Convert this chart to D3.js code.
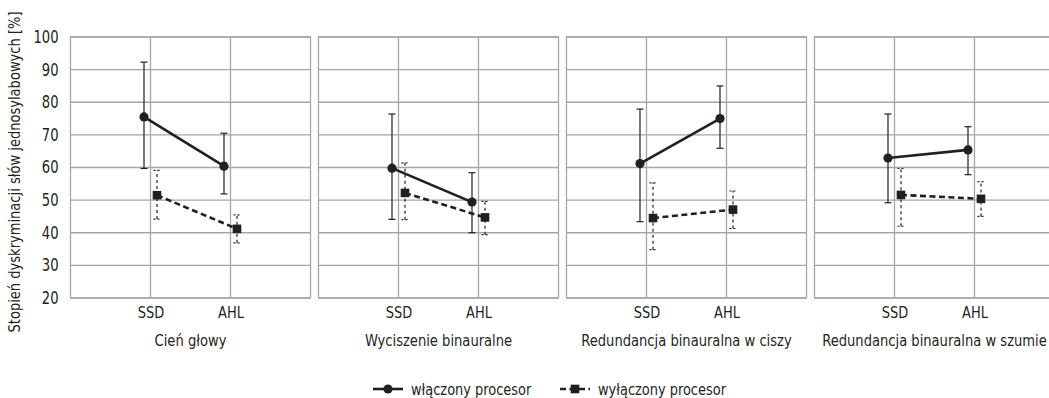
<!DOCTYPE html>
<html>
<head>
<meta charset="utf-8">
<script src="https://cdn.jsdelivr.net/npm/d3@7"></script>
<style>
  body { margin: 0; background: #fff; }
  svg { font-family: "Liberation Sans Narrow", "DejaVu Sans Condensed", sans-serif; }
</style>
</head>
<body>
<div id="chart"></div>
<script>
// panel titles and categories
var panels = ["Cień głowy", "Wyciszenie binauralne", "Redundancja binauralna w ciszy", "Redundancja binauralna w szumie"];
var categories = ["SSD", "AHL"];
var yTicks = [20, 30, 40, 50, 60, 70, 80, 90, 100];
var seriesNames = ["włączony procesor", "wyłączony procesor"];

// włączony procesor: mean, lower and upper whisker, per panel [SSD, AHL]
var onMean = [[75.5, 60.4], [59.8, 49.4], [61.2, 75.0], [62.9, 65.4]];
var onLow = [[59.7, 51.9], [44.1, 40.0], [43.4, 65.9], [49.2, 57.8]];
var onHigh = [[92.3, 70.5], [76.4, 58.4], [77.9, 85.0], [76.4, 72.5]];

// wyłączony procesor
var offMean = [[51.5, 41.2], [52.2, 44.7], [44.5, 47.1], [51.6, 50.4]];
var offLow = [[44.2, 36.9], [44.0, 39.4], [34.8, 41.3], [42.0, 45.0]];
var offHigh = [[59.1, 45.5], [61.4, 49.6], [55.3, 52.8], [59.7, 55.7]];

var width = 1049, height = 398;
var top0 = 37, bottom0 = 298;
var panelW = 240, panelStep = 248, left0 = 70.5;
var ink = "#231f20", gridCol = "#a6a6a6";

var svg = d3.select("#chart")
  .append("svg")
  .attr("width", width)
  .attr("height", height);

// the reference uses a condensed face, so squeeze the text a bit
function squeeze(sel, k) {
  sel.each(function () {
    var l = this.getComputedTextLength();
    d3.select(this).attr("textLength", l * k).attr("lengthAdjust", "spacingAndGlyphs");
  });
}

var y = d3.scaleLinear().domain([20, 100]).range([bottom0, top0]);

// y axis title
svg.append("text")
  .attr("transform", "translate(15,172) rotate(-90)")
  .attr("text-anchor", "middle")
  .attr("dominant-baseline", "central")
  .attr("font-size", 15)
  .attr("fill", ink)
  .attr("textLength", 321)
  .attr("lengthAdjust", "spacingAndGlyphs")
  .text("Stopień dyskryminacji słów jednosylabowych [%]");

// y tick labels
var yAxis = svg.append("g")
  .attr("transform", "translate(" + (left0 - 9) + ",0)")
  .call(d3.axisLeft(y).tickValues(yTicks).tickSize(0).tickPadding(3));
yAxis.select(".domain").remove();
yAxis.selectAll("text").attr("font-size", 17).attr("fill", ink)
  .attr("font-family", "Liberation Sans Narrow, DejaVu Sans Condensed, sans-serif");
squeeze(yAxis.selectAll("text"), 0.86);

var series = [
  { mean: onMean, low: onLow, high: onHigh, dx: -6.5, dash: null, barDash: null, marker: "circle" },
  { mean: offMean, low: offLow, high: offHigh, dx: 6.5, dash: "6,3.5", barDash: "3,3", marker: "square" }
];

panels.forEach(function (title, p) {
  var g = svg.append("g").attr("transform", "translate(" + (left0 + p * panelStep) + ",0)");
  var x = d3.scalePoint().domain(categories).range([0, panelW]).padding(1);

  // grid
  g.selectAll(".hgrid")
    .data(yTicks)
    .enter()
    .append("line")
    .attr("x1", 0).attr("x2", panelW)
    .attr("y1", function (d) { return y(d); })
    .attr("y2", function (d) { return y(d); })
    .attr("stroke", gridCol).attr("stroke-width", 1.3);

  g.selectAll(".vgrid")
    .data(categories)
    .enter()
    .append("line")
    .attr("x1", function (d) { return x(d); })
    .attr("x2", function (d) { return x(d); })
    .attr("y1", top0).attr("y2", bottom0)
    .attr("stroke", gridCol).attr("stroke-width", 1.3);

  g.append("rect")
    .attr("x", 0).attr("y", top0)
    .attr("width", panelW).attr("height", bottom0 - top0)
    .attr("fill", "none").attr("stroke", gridCol).attr("stroke-width", 1.3);

  // x labels
  var xAxis = g.append("g")
    .attr("transform", "translate(0," + bottom0 + ")")
    .call(d3.axisBottom(x).tickSize(0).tickPadding(9));
  xAxis.select(".domain").remove();
  xAxis.selectAll("text").attr("font-size", 16).attr("fill", ink)
    .attr("font-family", "Liberation Sans Narrow, DejaVu Sans Condensed, sans-serif");
  squeeze(xAxis.selectAll("text"), 0.9);

  var t = g.append("text")
    .attr("x", panelW / 2)
    .attr("y", 346)
    .attr("text-anchor", "middle")
    .attr("font-size", 16)
    .attr("fill", ink)
    .text(title);
  squeeze(t, 0.91);

  series.forEach(function (s) {
    var pts = categories.map(function (c, i) {
      return { c: c, m: s.mean[p][i], lo: s.low[p][i], hi: s.high[p][i] };
    });

    // error bars
    pts.forEach(function (d) {
      var cx = x(d.c) + s.dx;
      g.append("line")
        .attr("x1", cx).attr("x2", cx)
        .attr("y1", y(d.lo)).attr("y2", y(d.hi))
        .attr("stroke", ink).attr("stroke-width", 1.2)
        .attr("stroke-dasharray", s.barDash);
      [d.lo, d.hi].forEach(function (v) {
        g.append("line")
          .attr("x1", cx - 3.5).attr("x2", cx + 3.5)
          .attr("y1", y(v)).attr("y2", y(v))
          .attr("stroke", ink).attr("stroke-width", 1.2)
          .attr("stroke-dasharray", s.barDash ? "2,2" : null);
      });
    });

    // connecting line
    g.append("path")
      .datum(pts)
      .attr("d", d3.line()
        .x(function (d) { return x(d.c) + s.dx; })
        .y(function (d) { return y(d.m); }))
      .attr("fill", "none")
      .attr("stroke", ink)
      .attr("stroke-width", 2.6)
      .attr("stroke-dasharray", s.dash);

    // markers
    if (s.marker === "circle") {
      g.selectAll(".m" + p + "c")
        .data(pts)
        .enter()
        .append("circle")
        .attr("cx", function (d) { return x(d.c) + s.dx; })
        .attr("cy", function (d) { return y(d.m); })
        .attr("r", 4.6)
        .attr("fill", ink);
    } else {
      g.selectAll(".m" + p + "s")
        .data(pts)
        .enter()
        .append("rect")
        .attr("x", function (d) { return x(d.c) + s.dx - 4.3; })
        .attr("y", function (d) { return y(d.m) - 4.3; })
        .attr("width", 8.6).attr("height", 8.6)
        .attr("fill", ink);
    }
  });
});

// legend
var legend = svg.append("g").attr("transform", "translate(0,389)");
var legX = [373, 560];
seriesNames.forEach(function (name, i) {
  var lg = legend.append("g").attr("transform", "translate(" + legX[i] + ",0)");
  lg.append("line")
    .attr("x1", 0).attr("x2", 30).attr("y1", 0).attr("y2", 0)
    .attr("stroke", ink).attr("stroke-width", 2.6)
    .attr("stroke-dasharray", i === 1 ? "6,3.5" : null);
  if (i === 0) {
    lg.append("circle").attr("cx", 15).attr("cy", 0).attr("r", 4.6).attr("fill", ink);
  } else {
    lg.append("rect").attr("x", 15 - 4.3).attr("y", -4.3).attr("width", 8.6).attr("height", 8.6).attr("fill", ink);
  }
  var lt = lg.append("text")
    .attr("x", 38).attr("y", 0)
    .attr("dominant-baseline", "central")
    .attr("font-size", 16)
    .attr("fill", ink)
    .text(name);
  squeeze(lt, 0.9);
});
</script>
</body>
</html>
